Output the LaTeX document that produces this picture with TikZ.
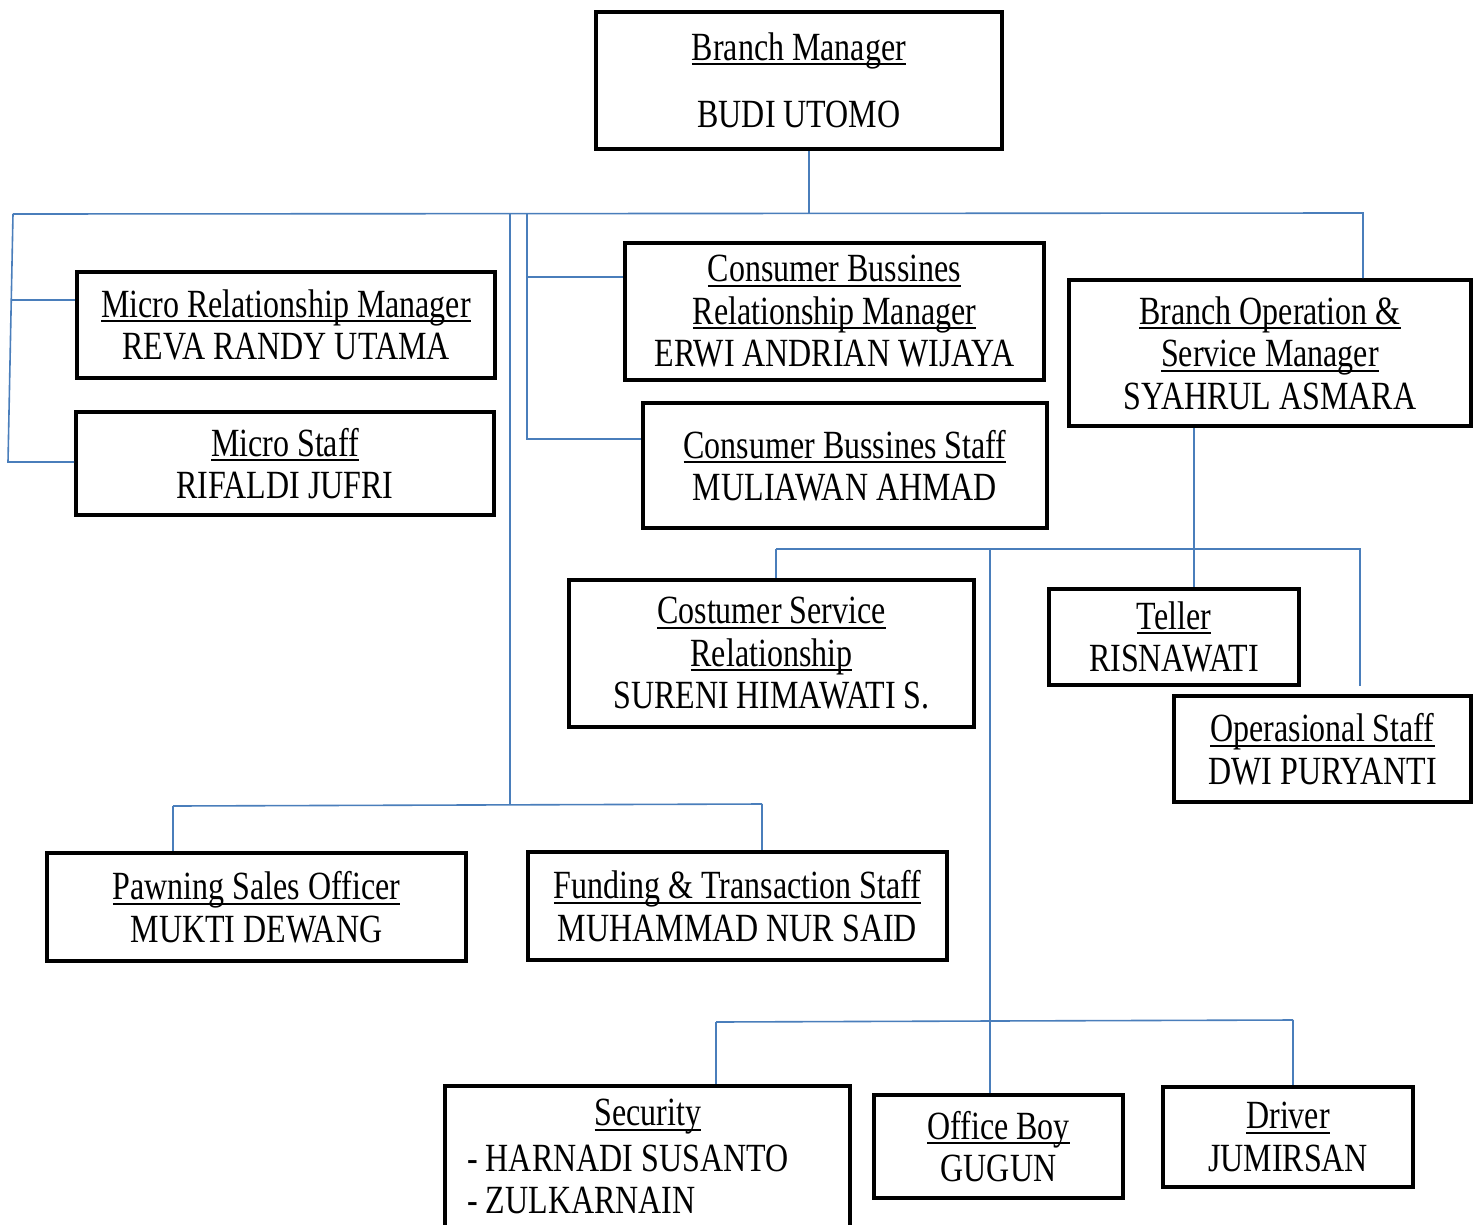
\documentclass[tikz,border=0pt]{standalone}
\usepackage{fontspec}
\setmainfont{Liberation Serif}[FakeStretch=0.8]
\newcommand\ulx[1]{\setbox0\hbox{#1}\rlap{\rule[-5pt]{\wd0}{2pt}}\box0}
\definecolor{connblue}{HTML}{4A7EBB}
\tikzset{
  box/.style={draw=black, line width=4pt, inner sep=0pt, align=center, font=\fontsize{40}{42.5}\selectfont},
  plaintext/.style={inner sep=0pt, font=\fontsize{40}{42.5}\selectfont},
  conn/.style={draw=connblue, line width=1.6pt}
}
\begin{document}
\begin{tikzpicture}[x=1pt,y=-1pt]
\useasboundingbox[fill=white] (0,0) rectangle (1483,1224);
\clip (0,0) rectangle (1483,1224);

% boxes
\node[box, minimum width=406pt, minimum height=137pt] (bm) at (799,80.5) {\ulx{Branch Manager}\\[25pt]BUDI UTOMO};
\node[box, minimum width=418pt, minimum height=106pt] (mrm) at (286,325) {\ulx{Micro Relationship Manager}\\REVA RANDY UTAMA};
\node[box, minimum width=418pt, minimum height=103pt] (ms) at (285,463.5) {\ulx{Micro Staff}\\RIFALDI JUFRI};
\node[box, minimum width=419pt, minimum height=137pt] (cbrm) at (834.5,311.5) {\ulx{Consumer Bussines}\\\ulx{Relationship Manager}\\ERWI ANDRIAN WIJAYA};
\node[box, minimum width=404pt, minimum height=125pt] (cbs) at (845,465.5) {\ulx{Consumer Bussines Staff}\\MULIAWAN AHMAD};
\node[box, minimum width=402pt, minimum height=146pt] (bosm) at (1270,353) {\ulx{Branch Operation \&}\\\ulx{Service Manager}\\SYAHRUL ASMARA};
\node[box, minimum width=405pt, minimum height=147pt] (csr) at (771.5,653.5) {\ulx{Costumer Service}\\\ulx{Relationship}\\SURENI HIMAWATI S.};
\node[box, minimum width=250pt, minimum height=96pt] (tel) at (1174,637) {\ulx{Teller}\\RISNAWATI};
\node[box, minimum width=297pt, minimum height=106pt] (ops) at (1322.5,749) {\ulx{Operasional Staff}\\DWI PURYANTI};
\node[box, minimum width=419pt, minimum height=108pt] (pso) at (256.5,907) {\ulx{Pawning Sales Officer}\\MUKTI DEWANG};
\node[box, minimum width=419pt, minimum height=108pt] (fts) at (737.5,906) {\ulx{Funding \& Transaction Staff}\\MUHAMMAD NUR SAID};
\node[box, minimum width=405pt, minimum height=152pt] (sec) at (647.5,1162) {};
\node[plaintext] (sect) at (648,1117) {\ulx{Security}};
\node[plaintext, anchor=west] (sec1) at (467,1158) {- HARNADI SUSANTO};
\node[plaintext, anchor=west] (sec2) at (467,1200) {- ZULKARNAIN};
\node[box, minimum width=249pt, minimum height=103pt] (ob) at (998.5,1146.5) {\ulx{Office Boy}\\GUGUN};
\node[box, minimum width=250pt, minimum height=100pt] (drv) at (1288,1137) {\ulx{Driver}\\JUMIRSAN};

% junction coordinates
\coordinate (j0) at (809,213);
\coordinate (tL) at (13,214);
\coordinate (tR) at (1363,213);
\coordinate (lM) at (11.3,300);
\coordinate (lB) at (8,462);
\coordinate (v1) at (510,214);
\coordinate (v1b) at (510,805);
\coordinate (pL) at (173,806);
\coordinate (pR) at (762,804);
\coordinate (v2) at (527,214);
\coordinate (v2m) at (527,277);
\coordinate (v2b) at (527,439);
\coordinate (b1) at (1194,549);
\coordinate (oL) at (776,549);
\coordinate (oR) at (1360,549);
\coordinate (oE) at (1360,686);
\coordinate (v3) at (990,549);
\coordinate (sL) at (716,1022);
\coordinate (sM) at (990,1021);
\coordinate (sR) at (1293,1020);

% connectors
\draw[conn] (j0 |- bm.south) -- (j0);
\draw[conn] (tL) -- (tR) -- (tR |- bosm.north);
\draw[conn] (tL) -- (lB) -- (ms.west |- lB);
\draw[conn] (lM) -- (mrm.west |- lM);
\draw[conn] (v1) -- (v1b);
\draw[conn] (pL) -- (pR);
\draw[conn] (pL) -- (pL |- pso.north);
\draw[conn] (pR) -- (pR |- fts.north);
\draw[conn] (v2) -- (v2b) -- (cbs.west |- v2b);
\draw[conn] (v2m) -- (cbrm.west |- v2m);
\draw[conn] (bosm.south -| b1) -- (tel.north -| b1);
\draw[conn] (oL) -- (oR) -- (oE);
\draw[conn] (oL) -- (oL |- csr.north);
\draw[conn] (v3) -- (v3 |- ob.north);
\draw[conn] (sL) -- (sM) -- (sR);
\draw[conn] (sL) -- (sL |- sec.north);
\draw[conn] (sR) -- (sR |- drv.north);
\end{tikzpicture}
\end{document}
